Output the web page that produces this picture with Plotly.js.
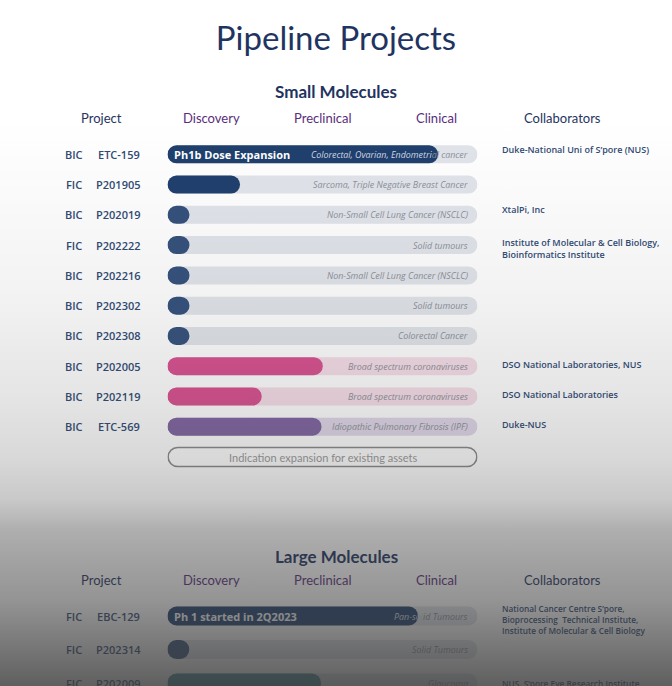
<!DOCTYPE html>
<html>
<head>
<meta charset="utf-8">
<script src="https://cdn.plot.ly/plotly-3.0.1.min.js"></script>
<style>
html,body{margin:0;padding:0;background:#ffffff;}
#wrap{position:relative;width:672px;height:686px;overflow:hidden;}
#chart{width:672px;height:686px;}
#shade{position:absolute;left:0;top:0;width:672px;height:686px;pointer-events:none;
background:linear-gradient(to bottom,
 rgba(60,60,60,0) 0px,
 rgba(60,60,60,0) 120px,
 rgba(60,60,60,0.026) 200px,
 rgba(60,60,60,0.067) 300px,
 rgba(60,60,60,0.139) 400px,
 rgba(60,60,60,0.20) 460px,
 rgba(60,60,60,0.28) 500px,
 rgba(60,60,60,0.41) 530px,
 rgba(60,60,60,0.474) 560px,
 rgba(60,60,60,0.55) 600px,
 rgba(60,60,60,0.82) 686px);}
</style>
</head>
<body>
<div id="wrap"><div id="chart"></div><div id="shade"></div></div>
<script>
// ---------------- DATA ----------------
const stages = ['Discovery', 'Preclinical', 'Clinical'];
const columnHeads = ['Project', 'Collaborators'];

const smallTypes = ['BIC','FIC','BIC','FIC','BIC','BIC','BIC','BIC','BIC','BIC'];
const smallCodes = ['ETC-159','P201905','P202019','P202222','P202216','P202302','P202308','P202005','P202119','ETC-569'];
const smallProgress = [87.3, 23.4, 7.1, 7.1, 7.1, 7.1, 7.1, 50.1, 30.4, 49.7]; // % of track (Discovery → Clinical)
const smallArea = ['oncology','oncology','oncology','oncology','oncology','oncology','oncology','antiviral','antiviral','fibrosis'];
const smallNotes = ['Ph1b Dose Expansion','','','','','','','','',''];
const smallIndications = [
  'Colorectal, Ovarian, Endometrial cancer',
  'Sarcoma, Triple Negative Breast Cancer',
  'Non-Small Cell Lung Cancer (NSCLC)',
  'Solid tumours',
  'Non-Small Cell Lung Cancer (NSCLC)',
  'Solid tumours',
  'Colorectal Cancer',
  'Broad spectrum coronaviruses',
  'Broad spectrum coronaviruses',
  'Idiopathic Pulmonary Fibrosis (IPF)'
];
const smallCollaborators = [
  'Duke-National Uni of S’pore (NUS)',
  '',
  'XtalPi, Inc',
  'Institute of Molecular & Cell Biology,<br>Bioinformatics Institute',
  '',
  '',
  '',
  'DSO National Laboratories, NUS',
  'DSO National Laboratories',
  'Duke-NUS'
];
const expansionLabel = 'Indication expansion for existing assets';

const largeTypes = ['FIC','FIC','FIC'];
const largeCodes = ['EBC-129','P202314','P202009'];
const largeProgress = [80.8, 7.0, 49.5];
const largeArea = ['oncology','oncology','ophthalmology'];
const largeNotes = ['Ph 1 started in 2Q2023','',''];
const largeIndications = ['Pan-solid Tumours','Solid Tumours','Glaucoma'];
const largeCollaborators = [
  'National Cancer Centre S’pore,<br>Bioprocessing  Technical Institute,<br>Institute of Molecular & Cell Biology',
  '',
  'NUS, S’pore Eye Research Institute'
];

// ---------------- STYLE / LAYOUT CONSTANTS ----------------
const W = 672, H = 686;
const TRACK_L = 167.5, TRACK_R = 477.5;      // px
const SMALL_FIRST = 154.3, SMALL_STEP = 30.27; // px
const LARGE_FIRST = 616, LARGE_STEP = 33.5;    // px
const NAVY = '#1f3461', PURPLE_HEAD = '#5a2d7c', LABEL = '#2f4a74';
const palette = {
  oncology:      {bar:'#1f3f6d', early:'#34517c', track:'#e1e4ea'},
  antiviral:     {bar:'#d8508f', early:'#d8508f', track:'#f6dde8'},
  fibrosis:      {bar:'#8064a1', early:'#8064a1', track:'#e1d8e9'},
  ophthalmology: {bar:'#3f8796', early:'#3f8796', track:'#e1e4ea'}
};
const overlapChars = {small:{0:30}, large:{0:7}};
const FULL = 100;
const EARLY = 10; // progress below this draws as a single dot

const px = v => v / W;
const py = v => 1 - v / H;
function yRange(first, step){ const top = -first/step; return [top + H/step, top]; }
const xDomain = [TRACK_L/W, TRACK_R/W];

const traces = [];
const annotations = [];

function addSection(types, codes, progress, area, notes, inds, collabs, yax, yref, thick, key){
  const n = codes.length;
  const rows = codes.map((_, i) => i);
  const trackCol = area.map(a => palette[a].track);
  const barCol = area.map((a, i) => progress[i] < EARLY ? palette[a].early : palette[a].bar);
  const common = {type:'bar', orientation:'h', y:rows, yaxis:yax, xaxis:'x', width:thick,
                  hoverinfo:'skip', showlegend:false};
  traces.push(Object.assign({}, common, {base:rows.map(()=>0), x:rows.map(()=>FULL), marker:{color:trackCol, cornerradius:'50%', line:{width:0}}}));
  traces.push(Object.assign({}, common, {base:rows.map(()=>0), x:progress, marker:{color:barCol, cornerradius:'50%', line:{width:0}}}));

  for (let i = 0; i < n; i++){
    annotations.push({xref:'paper', yref:yref, x:px(74), y:i, text:types[i], showarrow:false, xanchor:'center', yanchor:'middle',
      font:{family:'Open Sans', size:11, color:LABEL, weight:600}});
    annotations.push({xref:'paper', yref:yref, x:px(118.5), y:i, text:codes[i], showarrow:false, xanchor:'center', yanchor:'middle',
      font:{family:'Open Sans', size:11, color:LABEL, weight:600}});
    if (notes[i]) annotations.push({xref:'paper', yref:yref, x:px(172), y:i, text:notes[i], showarrow:false, xanchor:'left', yanchor:'middle',
      font:{family:'Open Sans', size:11, color:'#ffffff', weight:700}});
    let t = inds[i];
    const cut = overlapChars[key][i];
    if (cut) t = '<span style="color:#d3d9e3">' + t.slice(0,cut) + '</span>' + t.slice(cut);
    annotations.push({xref:'x', yref:yref, x:97.6, y:i, text:t, showarrow:false, xanchor:'right', yanchor:'middle',
      font:{family:'Open Sans', size:8.9, color:'#8c9099', style:'italic'}});
    if (collabs[i]) {
      const multi = collabs[i].indexOf('<br>') >= 0;
      annotations.push({xref:'paper', yref:yref, x:px(500), y:i, text:collabs[i], showarrow:false, xanchor:'left', align:'left',
        yanchor:'middle', yshift: key==='small' ? (multi ? -3 : (i<3 ? 5 : 2)) : (multi ? -3 : 0),
        font:{family:'Open Sans', size:key==='small' ? 9 : 8.3, color:LABEL, weight:600}});
    }
  }
}

addSection(smallTypes, smallCodes, smallProgress, smallArea, smallNotes, smallIndications, smallCollaborators, 'y', 'y', 18/SMALL_STEP, 'small');
addSection(largeTypes, largeCodes, largeProgress, largeArea, largeNotes, largeIndications, largeCollaborators, 'y2', 'y2', 19/LARGE_STEP, 'large');

// indication expansion box (outlined pill) on the row after the small-molecule list
const expRow = smallCodes.length;
traces.push({type:'bar', orientation:'h', y:[expRow], base:[0.2], x:[FULL-0.4], yaxis:'y', xaxis:'x', width:19/SMALL_STEP,
  hoverinfo:'skip', showlegend:false, marker:{color:'rgba(255,255,255,0)', cornerradius:'50%', line:{color:'#8a8a8a', width:1.6}}});
annotations.push({xref:'x', yref:'y', x:50, y:expRow, text:expansionLabel, showarrow:false, xanchor:'center', yanchor:'middle',
  font:{family:'Lato', size:11, color:'#9a9a9a'}});

// section titles and column headers
const stageX = [211, 323, 436];
function heads(title, titleY, headY){
  annotations.push({xref:'paper', yref:'paper', x:0.5, y:py(titleY), text:title, showarrow:false, xanchor:'center', yanchor:'middle',
    font:{family:'Lato', size:17, color:NAVY, weight:700}});
  annotations.push({xref:'paper', yref:'paper', x:px(102), y:py(headY), text:columnHeads[0], showarrow:false, xanchor:'center', yanchor:'middle',
    font:{family:'Lato', size:13, color:NAVY}});
  stages.forEach((s, k) => annotations.push({xref:'paper', yref:'paper', x:px(stageX[k]), y:py(headY), text:s, showarrow:false, xanchor:'center', yanchor:'middle',
    font:{family:'Lato', size:13, color:PURPLE_HEAD}}));
  annotations.push({xref:'paper', yref:'paper', x:px(562), y:py(headY), text:columnHeads[1], showarrow:false, xanchor:'center', yanchor:'middle',
    font:{family:'Lato', size:13, color:NAVY}});
}
heads('Small Molecules', 92, 118);
heads('Large Molecules', 556, 580);

const layout = {
  width:W, height:H,
  margin:{l:0, r:0, t:0, b:0, pad:0},
  paper_bgcolor:'#ffffff', plot_bgcolor:'rgba(0,0,0,0)',
  barmode:'overlay',
  title:{text:'Pipeline Projects', x:0.5, xanchor:'center', y:py(38), yanchor:'middle',
         font:{family:'Lato', size:33, color:NAVY}},
  xaxis:{domain:xDomain, range:[0,100], visible:false, fixedrange:true},
  yaxis:{domain:[0,1], range:yRange(SMALL_FIRST, SMALL_STEP), visible:false, fixedrange:true},
  yaxis2:{domain:[0,1], overlaying:'y', range:yRange(LARGE_FIRST, LARGE_STEP), visible:false, fixedrange:true},
  annotations:annotations,
  showlegend:false
};

Plotly.newPlot('chart', traces, layout, {displayModeBar:false, staticPlot:true});
</script>
</body>
</html>
